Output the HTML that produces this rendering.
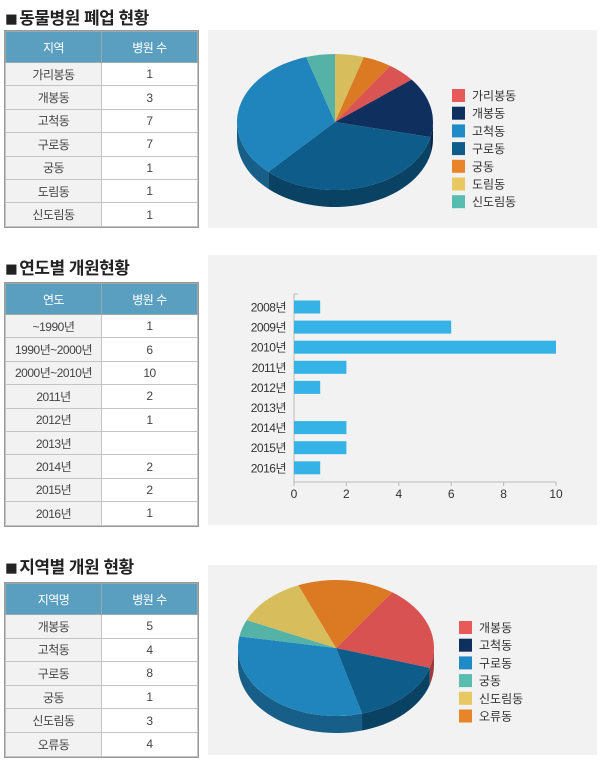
<!DOCTYPE html>
<html><head><meta charset="utf-8"><style>
body{margin:0;width:600px;height:763px;background:#fff;font-family:"Liberation Sans","Noto Sans CJK KR",sans-serif;position:relative;overflow:hidden}
.t{position:absolute;left:5px;font-size:17px;font-weight:bold;color:#222;letter-spacing:-0.5px}
.t b{font-size:21px;vertical-align:-2px;margin-right:2px}
table{position:absolute;left:5px;width:193px;border-collapse:collapse;font-size:12px;color:#444;text-align:center;letter-spacing:-0.5px}
td,th{border:1px solid #c4c4c4;padding:0}
th{background:#5b9fc0;color:#fff;font-weight:normal;border-color:#9aa}
td:first-child{background:#f2f2f2}
table{outline:1px solid #999}
.p{position:absolute;left:208px;width:389px;background:#f2f2f2}
svg{position:absolute;left:0;top:0}
</style></head><body>
<div class="t" style="top:4px"><b>■</b>동물병원 폐업 현황</div>
<table style="top:31px"><tr style="height:31px"><th style="width:95px">지역</th><th>병원 수</th></tr>
<tr style="height:23.4px"><td>가리봉동</td><td>1</td></tr><tr style="height:23.4px"><td>개봉동</td><td>3</td></tr><tr style="height:23.4px"><td>고척동</td><td>7</td></tr><tr style="height:23.4px"><td>구로동</td><td>7</td></tr><tr style="height:23.4px"><td>궁동</td><td>1</td></tr><tr style="height:23.4px"><td>도림동</td><td>1</td></tr><tr style="height:23.4px"><td>신도림동</td><td>1</td></tr></table>
<div class="t" style="top:254px"><b>■</b>연도별 개원현황</div>
<table style="top:283px"><tr style="height:31px"><th style="width:95px">연도</th><th>병원 수</th></tr>
<tr style="height:23.4px"><td>~1990년</td><td>1</td></tr><tr style="height:23.4px"><td>1990년~2000년</td><td>6</td></tr><tr style="height:23.4px"><td>2000년~2010년</td><td>10</td></tr><tr style="height:23.4px"><td>2011년</td><td>2</td></tr><tr style="height:23.4px"><td>2012년</td><td>1</td></tr><tr style="height:23.4px"><td>2013년</td><td></td></tr><tr style="height:23.4px"><td>2014년</td><td>2</td></tr><tr style="height:23.4px"><td>2015년</td><td>2</td></tr><tr style="height:23.4px"><td>2016년</td><td>1</td></tr></table>
<div class="t" style="top:553px"><b>■</b>지역별 개원 현황</div>
<table style="top:583px"><tr style="height:31px"><th style="width:95px">지역명</th><th>병원 수</th></tr>
<tr style="height:23.6px"><td>개봉동</td><td>5</td></tr><tr style="height:23.6px"><td>고척동</td><td>4</td></tr><tr style="height:23.6px"><td>구로동</td><td>8</td></tr><tr style="height:23.6px"><td>궁동</td><td>1</td></tr><tr style="height:23.6px"><td>신도림동</td><td>3</td></tr><tr style="height:23.6px"><td>오류동</td><td>4</td></tr></table>
<div class="p" style="top:30px;height:198px"></div>
<div class="p" style="top:255px;height:270px"></div>
<div class="p" style="top:565px;height:190px"></div>
<svg id="s" width="600" height="763" font-family="Liberation Sans, Noto Sans CJK KR, sans-serif" font-size="12" fill="#333"></svg>
<script>
var s=document.getElementById('s'),h='';
function dk(c,f){var n=parseInt(c.slice(1),16);var r=(n>>16)*f|0,g=((n>>8)&255)*f|0,b=(n&255)*f|0;return 'rgb('+r+','+g+','+b+')';}
function pie(cx,cy,rx,ry,d,start,data){
 var tot=0;data.forEach(function(e){tot+=e[0]});var a=start*Math.PI/180,out='',top='';
 data.forEach(function(e){
  var a2=a+e[0]/tot*2*Math.PI;
  var x1=cx+rx*Math.cos(a),y1=cy+ry*Math.sin(a),x2=cx+rx*Math.cos(a2),y2=cy+ry*Math.sin(a2);
  top+='<path d="M'+cx+','+cy+'L'+x1+','+y1+'A'+rx+','+ry+' 0 '+((a2-a)>Math.PI?1:0)+' 1 '+x2+','+y2+'Z" fill="'+e[1]+'"/>';
  var s1=a,s2=a2,k;
  for(k=-1;k<=1;k++){var lo=Math.max(s1,k*2*Math.PI),hi=Math.min(s2,k*2*Math.PI+Math.PI);
   if(hi>lo){var p1x=cx+rx*Math.cos(lo),p1y=cy+ry*Math.sin(lo),p2x=cx+rx*Math.cos(hi),p2y=cy+ry*Math.sin(hi);
    out+='<path d="M'+p1x+','+p1y+'A'+rx+','+ry+' 0 0 1 '+p2x+','+p2y+'L'+p2x+','+(p2y+d)+'A'+rx+','+ry+' 0 0 0 '+p1x+','+(p1y+d)+'Z" fill="'+dk(e[1],0.72)+'"/>';}}
  a=a2;});
 return out+top;}
h+=pie(335,122,98,68,17,-90,[[1,'#d8bd5c'],[1,'#db7a22'],[1,'#db5454'],[3,'#0f2f5f'],[7,'#0e5c8a'],[7,'#2085bd'],[1,'#55b2a6']]);
h+=pie(336,648,98,68,17,-55,[[5,'#d95252'],[4,'#0e5c8a'],[8,'#2085bd'],[1,'#55b2a6'],[3,'#d8bd5c'],[4,'#db7a22']]);
function leg(x,y,items){items.forEach(function(e,i){h+='<rect x="'+x+'" y="'+(y+i*17.7)+'" width="13" height="13" fill="'+e[1]+'"/><text x="'+(x+20)+'" y="'+(y+i*17.7+11)+'">'+e[0]+'</text>';});}
leg(452,89,[['가리봉동','#e85a5a'],['개봉동','#0f2f5f'],['고척동','#1f8cc8'],['구로동','#0e5c8a'],['궁동','#e8842a'],['도림동','#e8c862'],['신도림동','#58bcae']]);
leg(459,621,[['개봉동','#e85a5a'],['고척동','#0f2f5f'],['구로동','#1f8cc8'],['궁동','#58bcae'],['신도림동','#e8c862'],['오류동','#e8842a']]);
var yrs=['2008년','2009년','2010년','2011년','2012년','2013년','2014년','2015년','2016년'],v=[1,6,10,2,1,0,2,2,1];
h+='<line x1="294" y1="294" x2="294" y2="482" stroke="#bbb"/><line x1="294" y1="482" x2="556" y2="482" stroke="#bbb"/><line x1="294" y1="294" x2="298" y2="294" stroke="#bbb"/>';
yrs.forEach(function(y,i){var cy=307+i*20.1;if(v[i])h+='<rect x="294" y="'+(cy-6.5)+'" width="'+(v[i]*26.2)+'" height="13" fill="#35b3e6"/>';h+='<text x="286" y="'+(cy+4.5)+'" text-anchor="end" font-size="12" letter-spacing="-0.5">'+y+'</text>';});
for(var t=0;t<=10;t+=2){var x=294+t*26.2;h+='<line x1="'+x+'" y1="482" x2="'+x+'" y2="486" stroke="#bbb"/><text x="'+x+'" y="498" text-anchor="middle">'+t+'</text>';}
s.innerHTML=h;
</script>
</body></html>
